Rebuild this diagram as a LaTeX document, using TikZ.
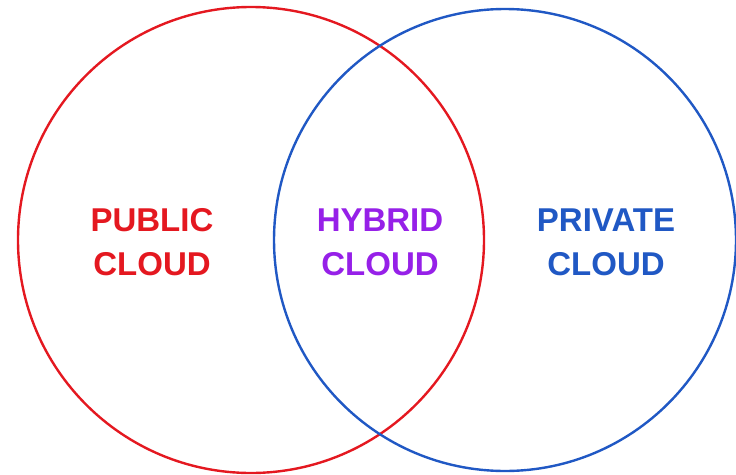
\documentclass[tikz,border=0pt]{standalone}
\usepackage{fontspec}
\setmainfont{Liberation Sans}
\definecolor{pubred}{RGB}{228,24,32}
\definecolor{pribl}{RGB}{32,88,196}
\definecolor{hybpu}{RGB}{150,32,232}

\begin{document}
\begin{tikzpicture}[
                x=1pt,y=-1pt,
                line width=2.4pt,
                ring/.style={draw,circle,inner sep=0pt},
                lbl/.style={align=center,font=\fontsize{33}{44}\selectfont\bfseries}] %

\useasboundingbox (0,0) rectangle (736,474);

                    % circles
                    \node[ring,draw=pubred,minimum size=466pt] (PUBC) at (251,240) {}; % 1
                    \node[ring,draw=pribl,minimum size=462pt] (PRIC) at (505,240) {}; % 2

                    % labels
                    \node[lbl,text=pubred] (PUB) at (152,242) {PUBLIC\\CLOUD};
                    \node[lbl,text=hybpu] (HYB) at (380,242) {HYBRID\\CLOUD};
                    \node[lbl,text=pribl] (PRI) at (606,242) {PRIVATE\\CLOUD};

\end{tikzpicture}
\end{document}
